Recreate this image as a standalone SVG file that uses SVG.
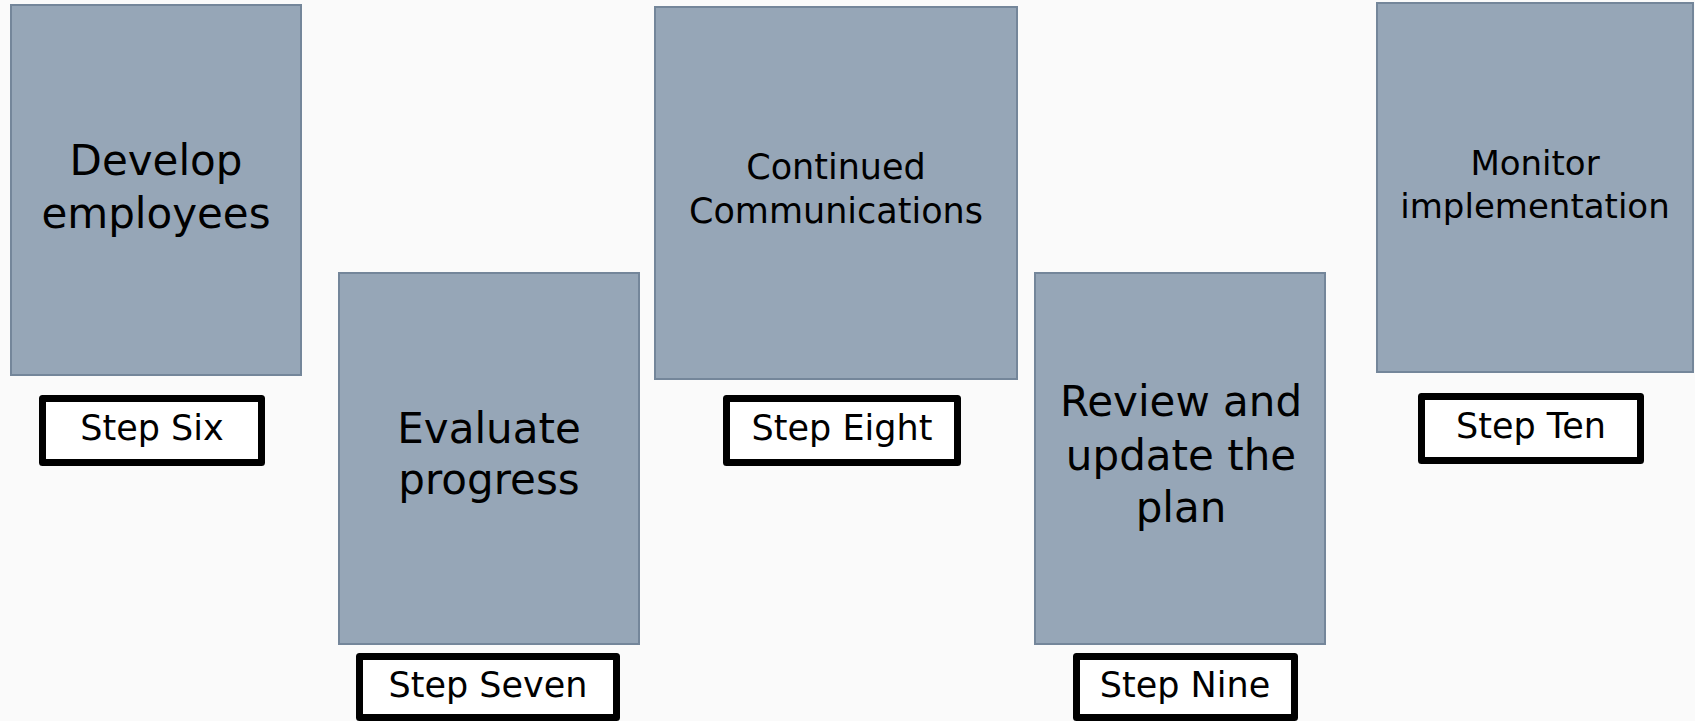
<svg xmlns="http://www.w3.org/2000/svg" width="1695" height="721" viewBox="0 0 1695 721">
  <style>
    .card { fill: #96a6b7; stroke: #74869a; stroke-width: 2; }
    .tag { fill: #ffffff; stroke: #000000; stroke-width: 7; stroke-linejoin: round; }
    .title { font-family: "DejaVu Sans", Verdana, sans-serif; fill: #000000; text-anchor: middle; }
    .step { font-family: "DejaVu Sans", Verdana, sans-serif; font-size: 35px; fill: #000000; text-anchor: middle; }
  </style>
  <rect width="1695" height="721" fill="#fafafa"/>

  <g id="step-six">
    <rect class="card" x="11" y="5" width="290" height="370"/>
    <text class="title" font-size="42" x="156"><tspan x="156" y="175">Develop</tspan><tspan x="156" y="228">employees</tspan></text>
    <rect class="tag" x="42.5" y="398.5" width="219" height="64"/>
    <text class="step" x="152" y="440">Step Six</text>
  </g>

  <g id="step-seven">
    <rect class="card" x="339" y="273" width="300" height="371"/>
    <text class="title" font-size="42" x="489"><tspan x="489" y="443">Evaluate</tspan><tspan x="489" y="494">progress</tspan></text>
    <rect class="tag" x="359.5" y="656.5" width="257" height="61"/>
    <text class="step" x="488" y="697">Step Seven</text>
  </g>

  <g id="step-eight">
    <rect class="card" x="655" y="7" width="362" height="372"/>
    <text class="title" font-size="35" x="836"><tspan x="836" y="179">Continued</tspan><tspan x="836" y="223">Communications</tspan></text>
    <rect class="tag" x="726.5" y="398.5" width="231" height="64"/>
    <text class="step" x="842" y="440">Step Eight</text>
  </g>

  <g id="step-nine">
    <rect class="card" x="1035" y="273" width="290" height="371"/>
    <text class="title" font-size="42" x="1181"><tspan x="1181" y="416">Review and</tspan><tspan x="1181" y="470">update the</tspan><tspan x="1181" y="522">plan</tspan></text>
    <rect class="tag" x="1076.5" y="656.5" width="218" height="61"/>
    <text class="step" x="1185" y="697">Step Nine</text>
  </g>

  <g id="step-ten">
    <rect class="card" x="1377" y="3" width="316" height="369"/>
    <text class="title" font-size="34" x="1535"><tspan x="1535" y="175">Monitor</tspan><tspan x="1535" y="218">implementation</tspan></text>
    <rect class="tag" x="1421.5" y="396.5" width="219" height="64"/>
    <text class="step" x="1531" y="438">Step Ten</text>
  </g>

  <g id="connectors"/>
</svg>
